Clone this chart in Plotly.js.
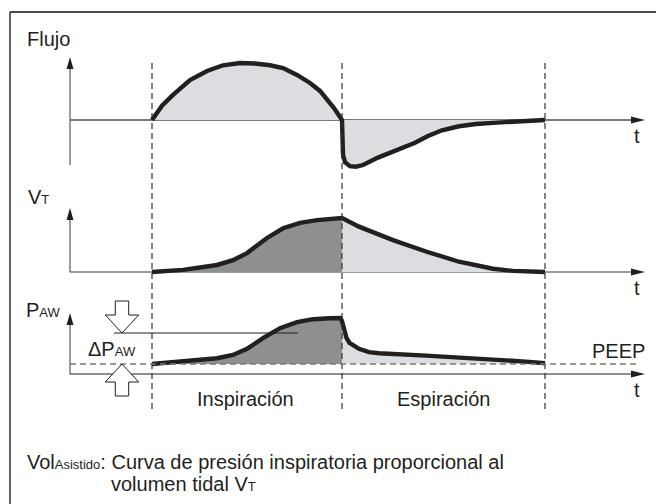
<!DOCTYPE html>
<html>
<head>
<meta charset="utf-8">
<script src="https://cdn.plot.ly/plotly-3.0.1.min.js"></script>
<style>
  html, body { margin: 0; padding: 0; background: #fff; }
  #chart { width: 656px; height: 504px; }
</style>
</head>
<body>
<div id="chart"></div>
<script>
// time axis in s, 0 = start of inspiration
var phaseTimes = [0, 1.9, 3.93];
var phaseLabels = ['Inspiración', 'Espiración'];

// Flujo (relative units)
var flowT = [0, 0.10, 0.21, 0.38, 0.55, 0.71, 0.88, 1.03, 1.18, 1.31, 1.45, 1.58, 1.68, 1.74, 1.82, 1.90,
             1.905, 1.91, 1.93, 1.98, 2.04, 2.11, 2.26, 2.48, 2.63, 2.76, 2.90, 3.07, 3.24, 3.41, 3.74, 3.93];
var flowV = [0, 0.25, 0.44, 0.70, 0.86, 0.96, 1.00, 0.99, 0.96, 0.91, 0.79, 0.65, 0.51, 0.39, 0.21, 0,
             -0.35, -0.61, -0.74, -0.81, -0.82, -0.79, -0.66, -0.51, -0.40, -0.28, -0.18, -0.11, -0.07, -0.05, -0.01, 0];

// VT (relative units)
var volInspT = [0, 0.31, 0.65, 0.81, 0.95, 1.05, 1.15, 1.31, 1.48, 1.65, 1.78, 1.90];
var volInspV = [0, 0.04, 0.13, 0.22, 0.35, 0.48, 0.63, 0.81, 0.91, 0.96, 0.99, 1.00];
var volExpT = [1.90, 2.07, 2.24, 2.41, 2.74, 3.07, 3.41, 3.61, 3.93];
var volExpV = [1.00, 0.84, 0.72, 0.59, 0.38, 0.19, 0.06, 0.02, 0];

// PAW (cmH2O)
var peep = 5;
var deltaP = 20.5;
var pInspT = [0, 0.31, 0.65, 0.81, 0.95, 1.11, 1.28, 1.45, 1.61, 1.78, 1.885, 1.90];
var pInspV = [5, 6.2, 7.9, 9.5, 12.6, 17.9, 22.9, 25.9, 27.4, 27.9, 28, 26.5];
var pExpT = [1.90, 1.915, 1.945, 1.975, 2.02, 2.07, 2.17, 2.27, 2.74, 3.24, 3.74, 3.93];
var pExpV = [26.5, 23, 18, 15.5, 13.8, 12.6, 10.9, 10.4, 9.2, 7.9, 6.2, 5.4];

var W = 656, H = 504;
var INK = '#231f20', AXIS = '#7a7a7a', LIGHT = '#dcdde0', DARK = '#8e8f91';

// pixel placement of the three strips
var panels = [
  {top: 30, bottom: 180, zero: 120, scale: 57, tip: 57, axEnd: 165, base: AXIS, baseW: 2},
  {top: 190, bottom: 290, zero: 272, scale: 54, tip: 208, axEnd: 272, base: AXIS, baseW: 1.5},
  {top: 300, bottom: 420, zero: 374, scale: 2, tip: 313, axEnd: 374, base: INK, baseW: 1}
];
var axisT = -0.82, tipT = 4.93;

function px(x) { return x / W; }
function py(y) { return 1 - y / H; }
function tOf(x) { return (x - 152) / 100; }
function xPx(t) { return 152 + t * 100; }

function yAxis(p) {
  return {
    domain: [py(p.bottom), py(p.top)],
    range: [(p.zero - p.bottom) / p.scale, (p.zero - p.top) / p.scale],
    visible: false, fixedrange: true, anchor: 'x'
  };
}

function curve(x, y, ax) {
  return {x: x, y: y, xaxis: 'x', yaxis: ax, type: 'scatter', mode: 'lines',
    line: {color: INK, width: 4.4}, hoverinfo: 'skip'};
}
function area(x, y, ax, color, mode) {
  return {x: x, y: y, xaxis: 'x', yaxis: ax, type: 'scatter', mode: 'lines',
    fill: mode, fillcolor: color, line: {width: 0, color: color}, hoverinfo: 'skip'};
}

var traces = [
  area(flowT, flowV, 'y', LIGHT, 'tozeroy'),
  curve(flowT, flowV, 'y'),
  area(volInspT, volInspV, 'y2', DARK, 'tozeroy'),
  area(volExpT, volExpV, 'y2', LIGHT, 'tozeroy'),
  curve(volInspT.concat(volExpT.slice(1)), volInspV.concat(volExpV.slice(1)), 'y2'),
  area(pInspT.concat([pInspT[pInspT.length - 1], pInspT[0]]), pInspV.concat([peep, peep]), 'y3', DARK, 'toself'),
  area(pExpT.concat([pExpT[pExpT.length - 1], pExpT[0]]), pExpV.concat([peep, peep]), 'y3', LIGHT, 'toself'),
  curve(pInspT.slice(0, -1).concat(pExpT), pInspV.slice(0, -1).concat(pExpV), 'y3')
];

var shapes = [];
// frame (top and left)
shapes.push({type: 'line', xref: 'paper', yref: 'paper', x0: px(10), y0: py(12), x1: 1, y1: py(12), line: {color: '#111', width: 1.3}});
shapes.push({type: 'line', xref: 'paper', yref: 'paper', x0: px(10), y0: py(12), x1: px(10), y1: 0, line: {color: '#111', width: 1.3}});

var yRefs = ['y', 'y2', 'y3'];
panels.forEach(function (p, i) {
  // time axis
  shapes.push({type: 'line', layer: 'below', xref: 'x', yref: yRefs[i], x0: axisT, x1: tipT - 0.1, y0: 0, y1: 0,
    line: {color: p.base, width: p.baseW}});
  var xt = px(xPx(tipT)), yb = p.zero;
  shapes.push({type: 'path', xref: 'paper', yref: 'paper', fillcolor: INK, line: {width: 0},
    path: 'M' + xt + ',' + py(yb) + ' L' + px(xPx(tipT) - 14) + ',' + py(yb - 3.5) + ' L' + px(xPx(tipT) - 14) + ',' + py(yb + 3.5) + ' Z'});
  // value axis
  var xa = xPx(axisT);
  shapes.push({type: 'line', layer: 'below', xref: 'paper', yref: 'paper', x0: px(xa), x1: px(xa), y0: py(p.tip + 6), y1: py(p.axEnd),
    line: {color: AXIS, width: 1.5}});
  shapes.push({type: 'path', xref: 'paper', yref: 'paper', fillcolor: INK, line: {width: 0},
    path: 'M' + px(xa) + ',' + py(p.tip) + ' L' + px(xa - 3.5) + ',' + py(p.tip + 12) + ' L' + px(xa + 3.5) + ',' + py(p.tip + 12) + ' Z'});
});

// phase boundaries
phaseTimes.forEach(function (t) {
  shapes.push({type: 'line', xref: 'x', yref: 'paper', x0: t, x1: t, y0: py(63), y1: py(413),
    line: {color: '#333', width: 1.2, dash: '6px,4px'}});
});

// PEEP level and delta P level
shapes.push({type: 'line', xref: 'x', yref: 'y3', x0: axisT, x1: tOf(636), y0: peep, y1: peep,
  line: {color: AXIS, width: 1.3, dash: '6px,4px'}});
shapes.push({type: 'line', xref: 'x', yref: 'y3', x0: tOf(114), x1: tOf(298), y0: deltaP, y1: deltaP,
  line: {color: INK, width: 1}});

// hollow block arrows marking delta P
function blockArrow(cx, tipY, dir) {
  var headLen = 18, shaft = 14, sw = 6.7, hw = 16.7;
  var b = tipY - dir * headLen, e = b - dir * shaft;
  var pts = [[cx - sw, e], [cx + sw, e], [cx + sw, b], [cx + hw, b], [cx, tipY], [cx - hw, b], [cx - sw, b]];
  return 'M' + pts.map(function (q) { return px(q[0]) + ',' + py(q[1]); }).join(' L') + ' Z';
}
shapes.push({type: 'path', xref: 'paper', yref: 'paper', fillcolor: '#fff', line: {color: INK, width: 1},
  path: blockArrow(122, 333, 1)});
shapes.push({type: 'path', xref: 'paper', yref: 'paper', fillcolor: '#fff', line: {color: INK, width: 1},
  path: blockArrow(122, 364, -1)});

var sm = function (s) { return '<span style="font-size:13px">' + s + '</span>'; };
function label(text, x, y, anchor) {
  return {text: text, xref: 'paper', yref: 'paper', x: px(x), y: py(y), xanchor: anchor || 'left', yanchor: 'middle',
    showarrow: false, font: {size: 20, color: INK}};
}

var annotations = [
  label('Flujo', 25, 38.7),
  label('V' + sm('T'), 25.5, 197),
  label('P' + sm('AW'), 24, 310),
  label('ΔP' + sm('AW'), 85.5, 349),
  label('PEEP', 590, 351),
  label('t', 631.5, 136),
  label('t', 631.5, 288),
  label('t', 631.5, 390),
  label(phaseLabels[0], xPx((phaseTimes[0] + phaseTimes[1]) / 2) - 2, 399, 'center'),
  label(phaseLabels[1], xPx((phaseTimes[1] + phaseTimes[2]) / 2), 399, 'center'),
  label('Vol' + sm('Asistido') + ': Curva de presión inspiratoria proporcional al', 25, 462),
  label('volumen tidal V' + sm('T'), 109, 484)
];

var layout = {
  width: W, height: H,
  margin: {l: 0, r: 0, t: 0, b: 0},
  paper_bgcolor: '#fff', plot_bgcolor: 'rgba(0,0,0,0)',
  showlegend: false,
  font: {family: 'Liberation Sans, Arial, Helvetica, sans-serif', size: 20, color: INK},
  xaxis: {domain: [0, 1], range: [tOf(0), tOf(W)], visible: false, fixedrange: true},
  yaxis: yAxis(panels[0]),
  yaxis2: yAxis(panels[1]),
  yaxis3: yAxis(panels[2]),
  shapes: shapes,
  annotations: annotations
};

Plotly.newPlot('chart', traces, layout, {displayModeBar: false, staticPlot: true});
</script>
</body>
</html>
